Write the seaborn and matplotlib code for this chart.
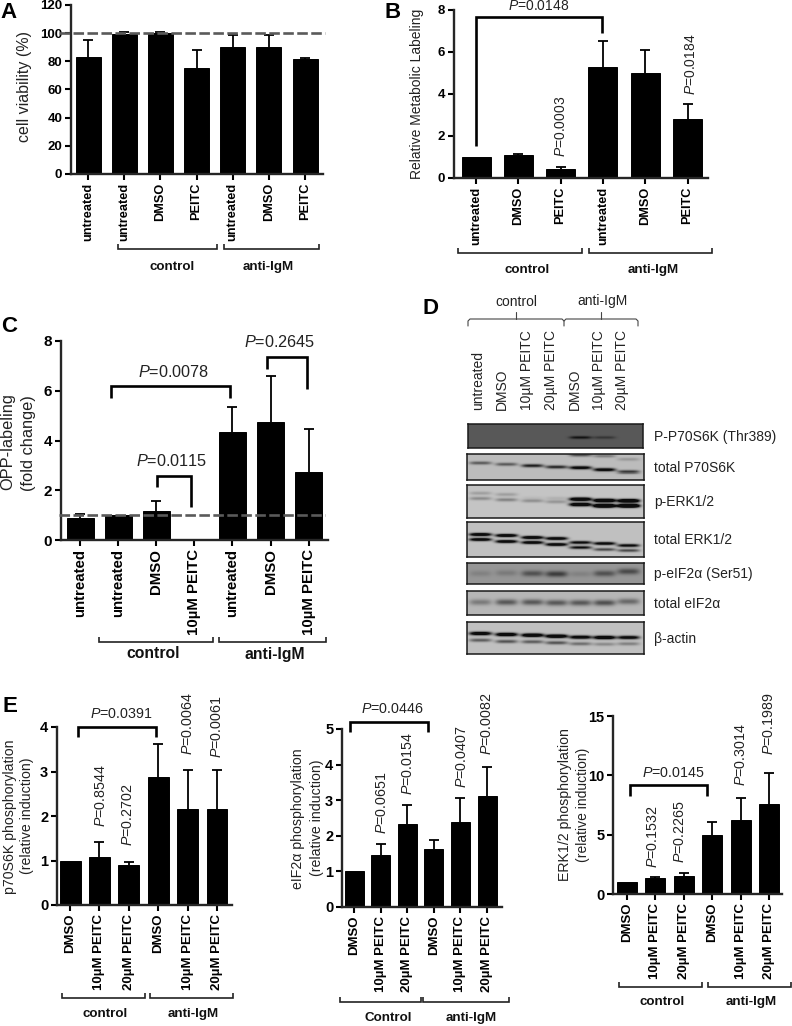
import numpy as np
import pandas as pd
import matplotlib
matplotlib.use("Agg")
import matplotlib.pyplot as plt
import seaborn as sns

W, H = 792, 1026

# Panel A
a_labels = ['untreated', 'untreated', 'DMSO', 'PEITC', 'untreated', 'DMSO', 'PEITC']
a_values = [83, 99.5, 100, 75.5, 90, 90, 81.5]
a_errors = [12.5, 1.5, 0.5, 12.5, 9, 9, 1]
a_yticks = [0, 20, 40, 60, 80, 100, 120]

# Panel B
b_labels = ['untreated', 'DMSO', 'PEITC', 'untreated', 'DMSO', 'PEITC']
b_values = [1.0, 1.08, 0.42, 5.25, 5.0, 2.8]
b_errors = [0, 0.06, 0.1, 1.25, 1.1, 0.7]
b_yticks = [0, 2, 4, 6, 8]

# Panel C
c_labels = ['untreated', 'untreated', 'DMSO', '10µM PEITC', 'untreated', 'DMSO', '10µM PEITC']
c_values = [0.9, 1.0, 1.17, 0, 4.33, 4.75, 2.72]
c_errors = [0.13, 0, 0.38, 0, 1.02, 1.83, 1.75]
c_yticks = [0, 2, 4, 6, 8]

# Panel E
e_labels = ['DMSO', '10µM PEITC', '20µM PEITC', 'DMSO', '10µM PEITC', '20µM PEITC']
e1_values = [1.0, 1.08, 0.9, 2.88, 2.15, 2.15]
e1_errors = [0, 0.34, 0.07, 0.74, 0.88, 0.88]
e1_yticks = [0, 1, 2, 3, 4]
e2_values = [1.0, 1.46, 2.32, 1.63, 2.4, 3.13]
e2_errors = [0, 0.32, 0.55, 0.25, 0.67, 0.8]
e2_yticks = [0, 1, 2, 3, 4, 5]
e3_values = [1.0, 1.38, 1.53, 5.0, 6.2, 7.6]
e3_errors = [0, 0.07, 0.22, 1.05, 1.9, 2.6]
e3_yticks = [0, 5, 10, 15]

# Panel D, band strength per lane (1 = black at the band centre, above 1 = fatter band)
d_lanes = ['untreated', 'DMSO', '10µM PEITC', '20µM PEITC', 'DMSO', '10µM PEITC', '20µM PEITC']
d_names = ['P-P70S6K (Thr389)', 'total P70S6K', 'p-ERK1/2', 'total ERK1/2',
           'p-eIF2α (Ser51)', 'total eIF2α', 'β-actin']
d_backgrounds = [88, 188, 196, 192, 150, 182, 192]
pp70_y = [13, 13, 13, 13, 13, 13, 13]
pp70_s = [0, 0, 0, 0, 0.9, 0.45, 0]
t70_y = [9, 10.3, 11.7, 13, 13.7, 15.7, 17.7]
t70_s = [0.55, 0.55, 0.9, 0.85, 1.2, 1.2, 0.75]
t70up_y = [1, 1, 1, 1, 1, 2, 5.3]
t70up_s = [0, 0, 0, 0, 0.6, 0.35, 0.2]
erk_up_y = [7.7, 9, 12.3, 12.7, 13.7, 15, 15.3]
erk_up_s = [0.2, 0.2, 0.05, 0.1, 1.6, 1.8, 1.8]
erk_lo_y = [13, 14.3, 15.3, 16.3, 19, 20.3, 20.3]
erk_lo_s = [0.3, 0.35, 0.28, 0.25, 1.6, 2.2, 2.2]
terk_up_y = [12, 13, 15, 16, 20, 21, 23]
terk_up_s = [1.4, 1.4, 1.4, 1.3, 1.1, 1.2, 1.1]
terk_lo_y = [17, 19, 20, 22, 25, 27, 28]
terk_lo_s = [1.3, 1.3, 1.3, 1.3, 1.0, 0.65, 0.65]
peif_y = [10, 9.5, 10, 10.5, 10.5, 10, 8]
peif_s = [0.15, 0.2, 0.5, 0.65, 0.15, 0.5, 0.55]
teif_y = [10.7, 10.7, 10.7, 11.3, 11.3, 11.3, 10]
teif_s = [0.35, 0.55, 0.55, 0.55, 0.55, 0.6, 0.45]
act_up_y = [11, 12, 12.7, 13.7, 14.7, 15, 15]
act_up_s = [1.4, 1.5, 1.6, 1.6, 1.3, 1.5, 1.2]
act_lo_y = [17.7, 19, 19.3, 20.3, 21.3, 21.7, 21.3]
act_lo_s = [0.55, 0.6, 0.55, 0.6, 0.45, 0.3, 0.35]

sns.set_theme(style="ticks")
plt.rcParams['font.family'] = ['Liberation Sans', 'DejaVu Sans']
plt.rcParams['mathtext.fontset'] = 'custom'
plt.rcParams['mathtext.rm'] = 'Liberation Sans'
plt.rcParams['mathtext.it'] = 'Liberation Sans:italic'
plt.rcParams['mathtext.bf'] = 'Liberation Sans:bold'

fig = plt.figure(figsize=(W / 100, H / 100), dpi=100, facecolor='white')

# overlay in image pixels for brackets and annotations
ov = fig.add_axes([0, 0, 1, 1], zorder=10)
ov.set_xlim(0, W)
ov.set_ylim(H, 0)
ov.axis('off')
ov.patch.set_alpha(0)


def px_axes(x0, x1, y0, y1):
    return fig.add_axes([x0 / W, 1 - y1 / H, (x1 - x0) / W, (y1 - y0) / H])


def bar_panel(box, first, step, bar, labels, values, errors, yticks,
              tick_size=9, ynum_size=9, ref=None, ref_span=None):
    x0, x1, y0, y1 = box
    ax = px_axes(x0, x1, y0, y1)
    df = pd.DataFrame({'pos': range(len(values)), 'value': values})
    sns.barplot(data=df, x='pos', y='value', color='black', saturation=1,
                width=(bar - 1) / step, errorbar=None, edgecolor='black',
                linewidth=0.7, ax=ax)
    # upper error bars only, and no cap where there is no error
    err = np.array(errors, dtype=float)
    keep = err > 0
    _, caps, _ = ax.errorbar(df['pos'][keep], df['value'][keep],
                             yerr=[np.zeros(keep.sum()), err[keep]], fmt='none',
                             ecolor='black', elinewidth=1.3, capsize=3.6, capthick=1.3,
                             clip_on=False)
    caps[0].set_visible(False)
    ax.set_xlim((x0 - first) / step, (x1 - first) / step)
    ax.set_ylim(yticks[0], yticks[-1])
    ax.set_yticks(yticks)
    ax.set_xticks(range(len(labels)))
    ax.set_xticklabels(labels, rotation=90, fontweight='bold', fontsize=tick_size)
    ax.set_yticklabels(yticks, fontweight='bold', fontsize=ynum_size)
    ax.tick_params(axis='both', length=4.3, width=1.5, color='black',
                   labelcolor='black', pad=2)
    ax.set_xlabel('')
    ax.set_ylabel('')
    sns.despine(ax=ax)
    ax.spines['left'].set_linewidth(1.7)
    ax.spines['bottom'].set_linewidth(1.7)
    ax.patch.set_alpha(0)
    if ref is not None:
        ax.axhline(ref, xmin=(ref_span[0] - x0) / (x1 - x0),
                   xmax=(ref_span[1] - x0) / (x1 - x0), color='#5a5a5a', lw=1.9,
                   ls=(0, (4, 1.3)), clip_on=False, zorder=5)
    return ax


def group_bracket(x0, x1, y, up=5, lw=1.2):
    ov.plot([x0, x0, x1, x1], [y - up, y, y, y - up], color='#222222', lw=lw,
            solid_joinstyle='miter', solid_capstyle='butt')


def group_label(x, y, s, size=9.6):
    ov.text(x, y, s, ha='center', va='center', fontweight='bold', fontsize=size,
            color='#111111')


def p_bracket(x0, b0, top, x1, b1, lw=1.9):
    ov.plot([x0, x0, x1, x1], [b0, top, top, b1], color='black', lw=lw,
            solid_joinstyle='miter', solid_capstyle='butt')


def p_text(x, y, s, size=10, rotation=0):
    ov.text(x, y, r'$\mathit{P}$=' + s, ha='center', va='center', fontsize=size,
            rotation=rotation, color='#222222')


def y_title(x, y, s, size=10):
    ov.text(x, y, s, ha='center', va='center', rotation=90, fontsize=size,
            color='#222222')


def letter(x, y, s):
    ov.text(x, y, s, ha='left', va='baseline', fontweight='bold', fontsize=16,
            color='black')


# A
bar_panel((71, 323, 5, 174), 88, 36.17, 26, a_labels, a_values, a_errors, a_yticks,
          tick_size=9.2, ynum_size=9.5, ref=100, ref_span=(59, 325))
letter(0, 18, 'A')
y_title(25, 86, 'cell viability (%)', 11.5)
group_bracket(118, 217, 249)
group_bracket(224, 319, 249)
group_label(172, 267, 'control')
group_label(268, 267, 'anti-IgM')

# B
bar_panel((454, 708, 9.5, 178), 476, 42.3, 30, b_labels, b_values, b_errors, b_yticks,
          tick_size=9.2, ynum_size=9.5)
letter(385, 18, 'B')
y_title(417, 94, 'Relative Metabolic Labeling', 10)
group_bracket(458, 582, 253)
group_bracket(589, 712, 253)
group_label(527, 270, 'control')
group_label(653, 270, 'anti-IgM')
p_bracket(476, 146, 17, 602, 33)
p_text(539, 6, '0.0148')
p_text(561, 126, '0.0003', rotation=90)
p_text(691, 64, '0.0184', rotation=90)

# C
bar_panel((61, 328, 341, 540), 80, 38.1, 28, c_labels, c_values, c_errors, c_yticks,
          tick_size=10.8, ynum_size=11, ref=1, ref_span=(59, 325))
letter(1, 332, 'C')
y_title(8, 442, 'OPP-labeling', 11.8)
y_title(28, 443, '(fold change)', 11.8)
group_bracket(99, 213, 642)
group_bracket(219, 326, 642)
group_label(153, 654, 'control', 11.3)
group_label(275, 654, 'anti-IgM', 11.3)
p_bracket(111, 398, 386, 230, 398)
p_bracket(267, 369, 357, 307, 389)
p_bracket(157, 487, 476, 191, 507)
p_text(174, 372, '0.0078', 11.7)
p_text(280, 342, '0.2645', 11.7)
p_text(172, 461, '0.0115', 11.7)

# D
blot_boxes = [(468, 643, 424, 448), (467, 644, 454, 480), (467, 644, 485, 518),
              (467, 644, 522, 557), (467, 644, 563, 584), (467, 644, 591, 615),
              (467, 644, 622, 654)]
lane_x = [480, 506, 532, 556, 580, 604, 628]
blot_bands = [
    [(pp70_y, pp70_s)],
    [(t70_y, t70_s), (t70up_y, t70up_s)],
    [(erk_up_y, erk_up_s), (erk_lo_y, erk_lo_s)],
    [(terk_up_y, terk_up_s), (terk_lo_y, terk_lo_s)],
    [(peif_y, peif_s)],
    [(teif_y, teif_s)],
    [(act_up_y, act_up_s), (act_lo_y, act_lo_s)],
]
blot_thick = [1.5, 1.7, 1.8, 1.6, 3.0, 3.0, 1.8]


def blot_matrix(box, bg, bands, thick):
    x0, x1, y0, y1 = box
    xs = np.arange(x0, x1, 0.5)
    ys = np.arange(0, y1 - y0, 0.5)
    dark = np.zeros((len(ys), len(xs)))
    for band_y, band_s in bands:
        for lane, yc, s in zip(lane_x, band_y, band_s):
            across = np.exp(-((xs - lane) / 11) ** 4)
            down = np.exp(-((ys - yc) / thick) ** 2)
            dark += s * np.outer(down, across)
    return bg * (1 - np.clip(dark, 0, 1)) + 12 * np.clip(dark, 0, 1)


for box, bg, bands, thick, name in zip(blot_boxes, d_backgrounds, blot_bands, blot_thick, d_names):
    ax = px_axes(*box)
    sns.heatmap(blot_matrix(box, bg, bands, thick), ax=ax, cmap='gray', vmin=0, vmax=255,
                cbar=False, xticklabels=False, yticklabels=False, rasterized=True)
    for side in ax.spines.values():
        side.set_visible(True)
        side.set_linewidth(1.1)
        side.set_color('#1a1a1a')
    ov.text(654, (box[2] + box[3]) / 2 + 0.5, name, ha='left', va='center', fontsize=10,
            color='#222222')

letter(422, 314, 'D')
for x, s in zip([478, 502, 527, 551, 575, 599, 622], d_lanes):
    ov.text(x, 410, s, rotation=90, ha='center', va='bottom', fontsize=10, color='#222222')
ov.text(516, 302, 'control', ha='center', va='center', fontsize=10, color='#222222')
ov.text(602, 301, 'anti-IgM', ha='center', va='center', fontsize=10, color='#222222')
ov.plot([468, 468, 470, 562, 564, 564], [326, 321, 319, 319, 321, 326], color='#444444', lw=0.8)
ov.plot([564, 566, 636, 638, 638], [321, 319, 319, 321, 326], color='#444444', lw=0.8)
ov.plot([516, 516], [312, 319], color='#444444', lw=0.8)
ov.plot([601, 601], [312, 319], color='#444444', lw=0.8)

# E
bar_panel((57, 232, 727, 905), 70, 29.4, 22, e_labels, e1_values, e1_errors, e1_yticks,
          tick_size=9.5, ynum_size=10.5)
letter(2, 712, 'E')
y_title(10, 817, 'p70S6K phosphorylation', 10.2)
y_title(27, 816, '(relative induction)', 10.2)
group_bracket(62, 145, 998)
group_bracket(150, 233, 998)
group_label(105, 1014, 'control')
group_label(193, 1014, 'anti-IgM')
p_bracket(78, 737, 727, 156, 737)
p_text(121, 714, '0.0391', 10.3)
p_text(101, 796, '0.8544', 10.3, 90)
p_text(128, 815, '0.2702', 10.3, 90)
p_text(188, 724, '0.0064', 10.3, 90)
p_text(217, 727, '0.0061', 10.3, 90)

bar_panel((342, 502, 729, 907), 354, 26.6, 20, e_labels, e2_values, e2_errors, e2_yticks,
          tick_size=9.5, ynum_size=10.5)
y_title(298, 819, 'eIF2α phosphorylation', 10.2)
y_title(317, 818, '(relative induction)', 10.2)
group_bracket(340, 421, 1002)
group_bracket(423, 509, 1002)
group_label(388, 1018, 'Control')
group_label(471, 1018, 'anti-IgM')
p_bracket(350, 732, 722, 428, 732)
p_text(392, 709, '0.0446', 10.3)
p_text(382, 803, '0.0651', 10.3, 90)
p_text(408, 764, '0.0154', 10.3, 90)
p_text(462, 757, '0.0407', 10.3, 90)
p_text(487, 724, '0.0082', 10.3, 90)

bar_panel((613, 782, 716, 894), 627, 28.4, 21, e_labels, e3_values, e3_errors, e3_yticks,
          tick_size=9.5, ynum_size=10.5)
y_title(565, 805, 'ERK1/2 phosphorylation', 10.2)
y_title(583, 805, '(relative induction)', 10)
group_bracket(619, 702, 987)
group_bracket(708, 791, 987)
group_label(662, 1002, 'control')
group_label(751, 1002, 'anti-IgM')
p_bracket(630, 796, 785, 707, 796)
p_text(673, 773, '0.0145', 10.3)
p_text(653, 837, '0.1532', 10.3, 90)
p_text(680, 832, '0.2265', 10.3, 90)
p_text(741, 755, '0.3014', 10.3, 90)
p_text(769, 724, '0.1989', 10.3, 90)

plt.savefig("out.png", dpi=100)
